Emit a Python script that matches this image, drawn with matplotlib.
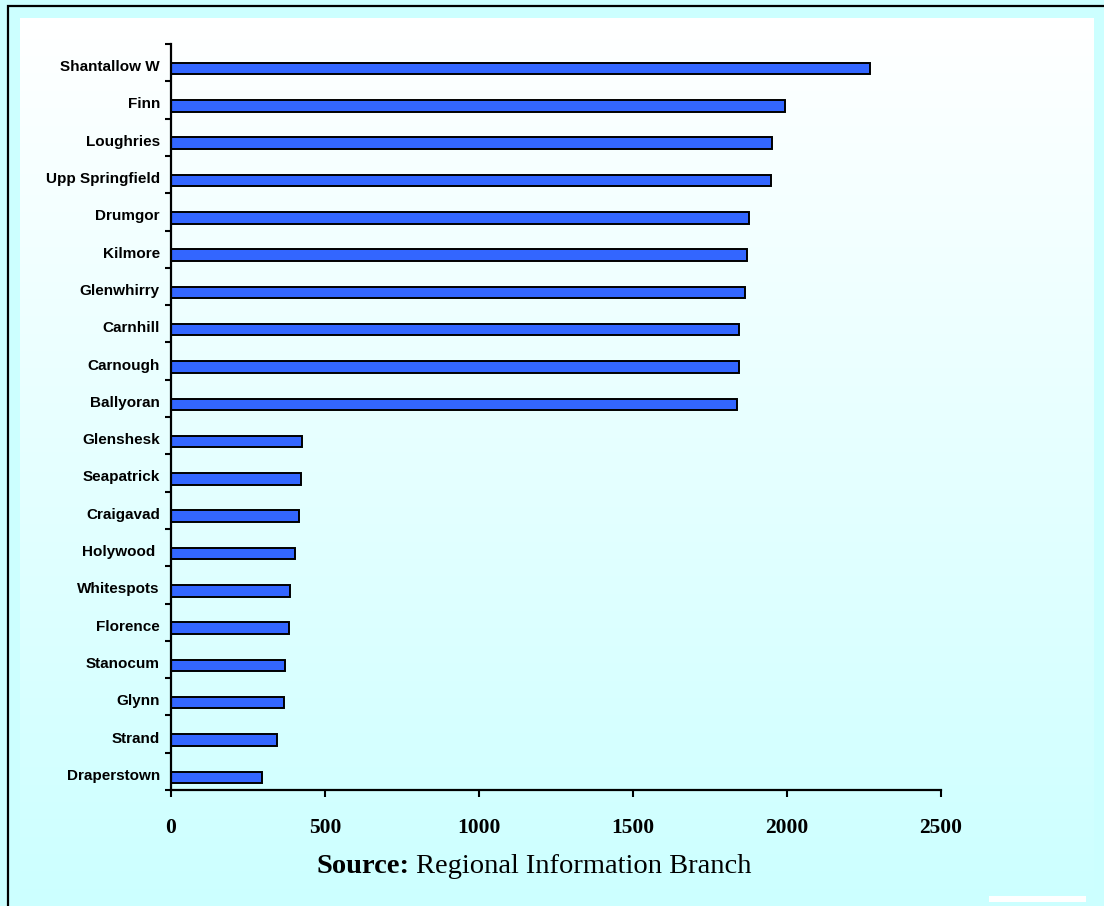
import numpy as np
import matplotlib
matplotlib.use("Agg")
import matplotlib.pyplot as plt
from matplotlib.patches import Rectangle

# data, top to bottom
areas = ["Shantallow W", "Finn", "Loughries", "Upp Springfield", "Drumgor",
         "Kilmore", "Glenwhirry", "Carnhill", "Carnough", "Ballyoran",
         "Glenshesk", "Seapatrick", "Craigavad", "Holywood ", "Whitespots",
         "Florence", "Stanocum", "Glynn", "Strand", "Draperstown"]
values = [2269, 1994, 1951, 1948, 1877, 1870, 1864, 1844, 1844, 1838,
          425, 422, 416, 403, 386, 383, 370, 368, 344, 295]
xticks = [0, 500, 1000, 1500, 2000, 2500]

W, H = 1104, 906
fig = plt.figure(figsize=(W / 100, H / 100), dpi=100)
fig.patch.set_facecolor("#ccffff")

# gradient panel behind the chart
bg = fig.add_axes([20 / W, 0, (1094 - 20) / W, 1 - 18 / H], zorder=0)
grad = np.linspace(0, 1, 256).reshape(-1, 1)
top = np.array([1.0, 1.0, 1.0])
bot = np.array([0xcc, 0xff, 0xff]) / 255
img = top[None, None, :] * (1 - grad[:, :, None]) + bot[None, None, :] * grad[:, :, None]
bg.imshow(img, aspect="auto", extent=[0, 1, 0, 1])
bg.set_axis_off()

# outer border (cropped at right and bottom)
fig.patches.append(Rectangle((8 / W, -0.05), 1.1, 1 - 6 / H + 0.05, transform=fig.transFigure,
                             fill=False, edgecolor="black", linewidth=1.6, zorder=1))
fig.patches.append(Rectangle((989 / W, 1 - 902 / H), (1086 - 989) / W, 6 / H,
                             transform=fig.transFigure, facecolor="white",
                             edgecolor="none", zorder=1))

ax = fig.add_axes([171 / W, 1 - 790 / H, (941 - 171) / W, (790 - 44) / H], zorder=2)
ax.patch.set_alpha(0)

pos = np.arange(len(areas))
ax.barh(pos + 0.16, values, height=0.31, color="#3366ff", edgecolor="black", linewidth=1.4)

ax.set_xlim(0, 2500)
ax.set_ylim(len(areas) - 0.5, -0.5)

ax.spines["top"].set_visible(False)
ax.spines["right"].set_visible(False)
ax.spines["left"].set_linewidth(1.6)
ax.spines["bottom"].set_linewidth(1.6)

ax.set_yticks(np.arange(-0.5, len(areas), 1))
ax.set_yticklabels([])
ax.set_yticks(pos + 0.08, minor=True)
ax.set_yticklabels(areas, minor=True, fontfamily="Liberation Sans",
                   fontweight="bold", fontsize=11)
ax.tick_params(axis="y", which="major", direction="out", length=4, width=1.5)
ax.tick_params(axis="y", which="minor", length=0, pad=8)

ax.set_xticks(xticks)
ax.set_xticklabels([str(v) for v in xticks], fontfamily="Liberation Serif",
                   fontweight="bold", fontsize=15.5)
ax.tick_params(axis="x", direction="out", length=5, width=1.5, pad=15)

# source line
ys = 1 - 873 / H
t1 = fig.text(317 / W, ys, "Source:", fontfamily="Liberation Serif", fontweight="bold",
              fontsize=20.5, va="baseline")
fig.canvas.draw()
bb = t1.get_window_extent()
fig.text(bb.x1 / W + 6 / W, ys, "Regional Information Branch", fontfamily="Liberation Serif",
         fontsize=20.5, va="baseline")

fig.savefig("out.png", dpi=100)
